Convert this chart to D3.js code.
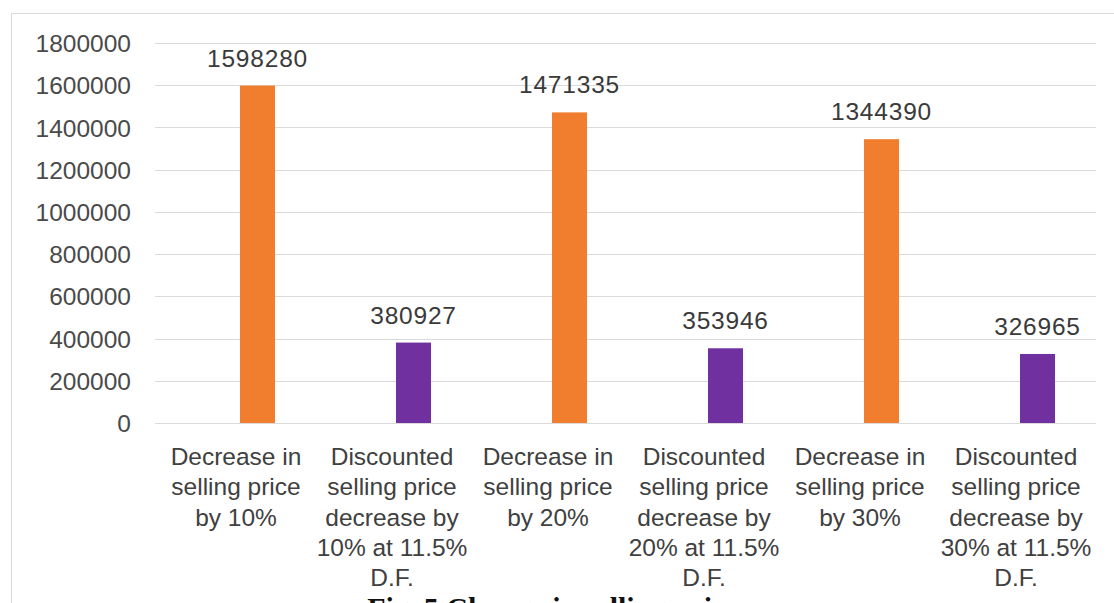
<!DOCTYPE html>
<html>
<head>
<meta charset="utf-8">
<script src="https://cdn.jsdelivr.net/npm/d3@7"></script>
<style>
  html, body { margin: 0; padding: 0; background: #ffffff; overflow: hidden; }
  svg { display: block; }
</style>
</head>
<body>
<svg id="chart" width="1114" height="603"></svg>
<script>
// Categories along the x axis
const categories = [
  "Decrease in selling price by 10%",
  "Discounted selling price decrease by 10% at 11.5% D.F.",
  "Decrease in selling price by 20%",
  "Discounted selling price decrease by 20% at 11.5% D.F.",
  "Decrease in selling price by 30%",
  "Discounted selling price decrease by 30% at 11.5% D.F."
];
// Value of each bar
const values = [1598280, 380927, 1471335, 353946, 1344390, 326965];
// Series type for each bar (decides the colour)
const kinds = ["decrease", "discounted", "decrease", "discounted", "decrease", "discounted"];
// Y axis tick values
const yTicks = [0, 200000, 400000, 600000, 800000, 1000000, 1200000, 1400000, 1600000, 1800000];

const colors = { decrease: "#F07E2E", discounted: "#7030A0" };

const svg = d3.select("#chart");
const W = 1114, H = 603;

// Outer chart frame
svg.append("rect")
  .attr("x", 11.5).attr("y", 13.5)
  .attr("width", W + 20).attr("height", H + 20)
  .attr("fill", "none")
  .attr("stroke", "#d9d9d9")
  .attr("stroke-width", 1);

const plot = { left: 158, right: 1094, top: 43, bottom: 423 };

const x = d3.scaleBand()
  .domain(categories)
  .range([plot.left, plot.right])
  .padding(0);

const y = d3.scaleLinear()
  .domain([0, 1800000])
  .range([plot.bottom, plot.top]);

// Horizontal gridlines
svg.append("g")
  .selectAll("line")
  .data(yTicks)
  .join("line")
  .attr("x1", 155).attr("x2", 1096)
  .attr("y1", d => Math.round(y(d)) + 0.5)
  .attr("y2", d => Math.round(y(d)) + 0.5)
  .attr("stroke", "#dadada")
  .attr("stroke-width", 1);

// Y axis labels
const yAxis = d3.axisLeft(y).tickValues(yTicks).tickSize(0).tickPadding(0)
  .tickFormat(d3.format("d"));
const yg = svg.append("g")
  .attr("transform", "translate(131,0)")
  .call(yAxis);
yg.select(".domain").remove();
yg.selectAll("text")
  .attr("font-family", "'Liberation Sans', Arial, sans-serif")
  .attr("font-size", 24.5)
  .attr("fill", "#4a4a4a")
  .attr("dy", "0.35em");

// Bars sit slightly right of each category centre
const barWidth = 35;
const barShift = 21.5;
const barX = d => x(d) + x.bandwidth() / 2 + barShift - barWidth / 2;

const rows = categories.map((c, i) => ({ c, v: values[i], k: kinds[i] }));

svg.append("g")
  .selectAll("rect")
  .data(rows)
  .join("rect")
  .attr("x", d => barX(d.c))
  .attr("y", d => y(d.v))
  .attr("width", barWidth)
  .attr("height", d => y(0) - y(d.v))
  .attr("fill", d => colors[d.k]);

// Value labels above the bars
svg.append("g")
  .selectAll("text")
  .data(rows)
  .join("text")
  .attr("x", d => barX(d.c) + barWidth / 2)
  .attr("y", d => y(d.v) - 19)
  .attr("text-anchor", "middle")
  .attr("font-family", "'Liberation Sans', Arial, sans-serif")
  .attr("font-size", 24.5)
  .attr("letter-spacing", 0.8)
  .attr("fill", "#3a3a3a")
  .text(d => d.v);

// Category labels, wrapped to the band width
const xg = svg.append("g").attr("class", "xlabels");
const maxW = 160;
const lineH = 30.3;
categories.forEach(cat => {
  const t = xg.append("text")
    .attr("x", x(cat) + x.bandwidth() / 2)
    .attr("y", 465)
    .attr("text-anchor", "middle")
    .attr("font-family", "'Liberation Sans', Arial, sans-serif")
    .attr("font-size", 24.5)
    .attr("fill", "#404040");
  const words = cat.split(" ");
  let line = [];
  let tspan = t.append("tspan").attr("x", x(cat) + x.bandwidth() / 2).attr("dy", 0);
  words.forEach(w => {
    line.push(w);
    tspan.text(line.join(" "));
    if (tspan.node().getComputedTextLength() > maxW && line.length > 1) {
      line.pop();
      tspan.text(line.join(" "));
      line = [w];
      tspan = t.append("tspan")
        .attr("x", x(cat) + x.bandwidth() / 2)
        .attr("dy", lineH)
        .text(w);
    }
  });
});

// Figure caption below the chart (runs past the bottom edge)
svg.append("text")
  .attr("x", 553)
  .attr("y", 618)
  .attr("text-anchor", "middle")
  .attr("font-family", "'Liberation Serif', 'Times New Roman', serif")
  .attr("font-size", 30)
  .attr("font-weight", "bold")
  .attr("fill", "#111")
  .text("Fig. 5 Change in selling price");
</script>
</body>
</html>
